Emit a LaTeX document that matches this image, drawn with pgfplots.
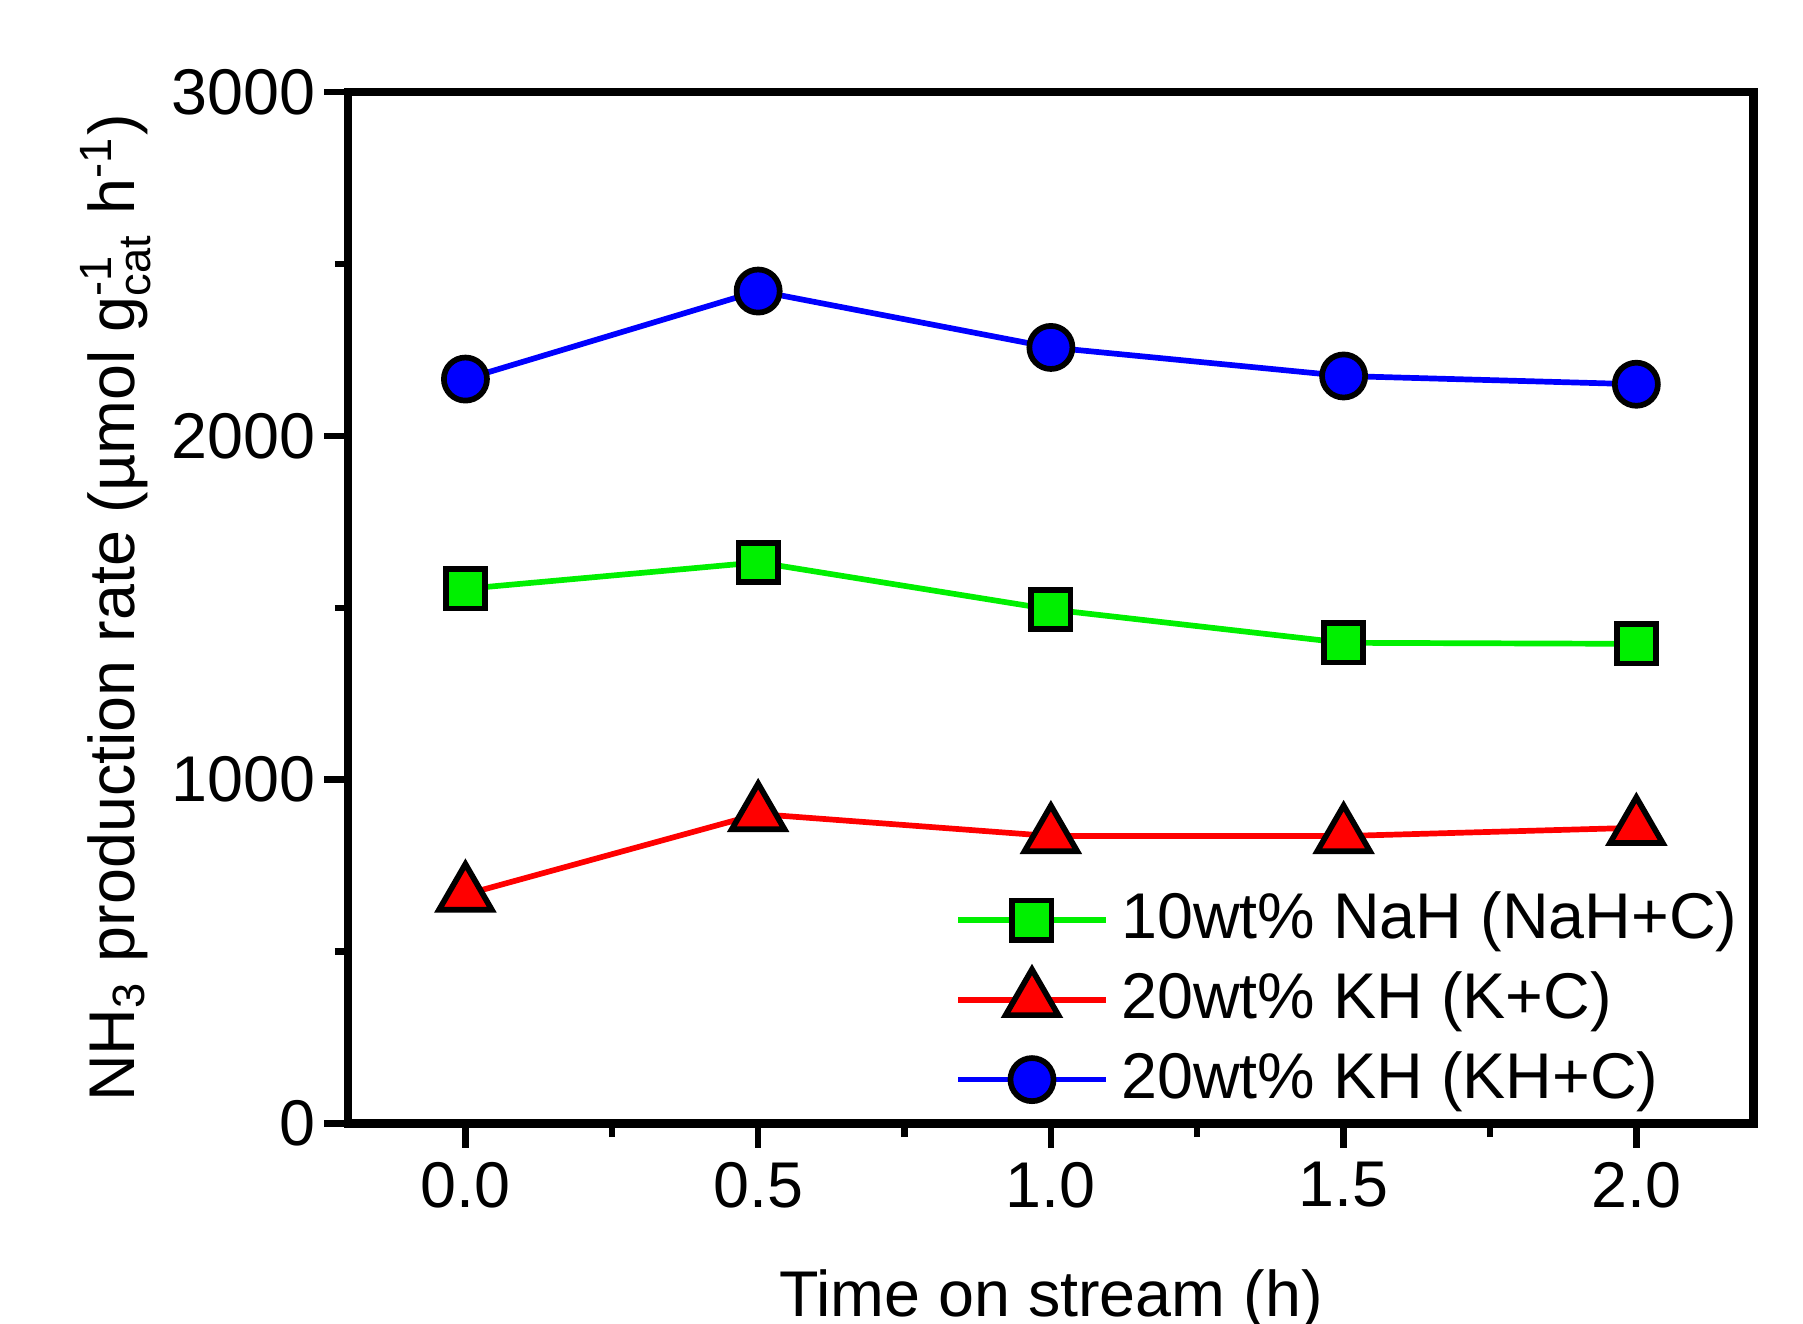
\documentclass[border=0pt]{standalone}
\usepackage{amsmath}
\usepackage{fontspec}
\setmainfont{Liberation Sans}
\setsansfont{Liberation Sans}
\usepackage{pgfplots}
\pgfplotsset{compat=1.18}
\definecolor{cgreen}{RGB}{0,240,0}
\definecolor{cred}{RGB}{255,0,0}
\definecolor{cblue}{RGB}{0,0,255}
\begin{document}
\fontsize{10.2}{12}\selectfont
\begin{tikzpicture}
\begin{axis}[
  name=ax,
  scale only axis,
  width=7.793cm, height=5.721cm,
  xmin=-0.2, xmax=2.2, ymin=0, ymax=3000,
  xtick={0,0.5,1,1.5,2}, ytick={0,1000,2000,3000},
  minor x tick num=1, minor y tick num=1,
  xtick pos=left, ytick pos=left,
  tick align=outside,
  major tick length=0.135cm, minor tick length=0.075cm,
  every tick/.style={black, line width=1pt},
  axis line style={line width=1.3pt},
  /pgf/number format/assume math mode=true,
  xticklabel style={/pgf/number format/fixed, /pgf/number format/fixed zerofill, /pgf/number format/precision=1, yshift=0.045cm},
  yticklabel style={/pgf/number format/1000 sep={}, xshift=0.077cm},
  tick label style={font=\fontsize{10.2}{12}\selectfont},
  label style={font=\fontsize{10.2}{12}\selectfont},
  xlabel={Time on stream (h)},
  ylabel={NH$_{\text{3}}$ production rate (µmol g$^{\text{-1}}_{\text{cat}}$ h$^{\text{-1}}$)},
  xlabel style={at={(axis description cs:0.5,-0.1706)}, anchor=center},
  ylabel style={at={(axis description cs:-0.1656,0.5)}, anchor=center},
  legend style={at={(axis description cs:0.431,0.238)}, anchor=north west, draw=none, fill=none,
    font=\fontsize{10.2}{12}\selectfont, row sep=-0.012cm, inner sep=0pt},
  legend cell align=left,
  legend image code/.code={\draw[mark repeat=2,mark phase=2] plot coordinates {(0cm,0cm) (0.41cm,0cm) (0.82cm,0cm)};},
  every axis plot/.append style={line width=0.9pt},
]
\addplot[cgreen, mark=square*, mark size=3.1pt, mark options={fill=cgreen, draw=black, line width=0.9pt}]
  coordinates {(0,1555) (0.5,1632) (1,1495) (1.5,1398) (2,1395)};
\addlegendentry{10wt\% NaH (NaH+C)}
\addplot[cred, mark=triangle*, mark size=4.8pt, mark options={fill=cred, draw=black, line width=0.9pt}]
  coordinates {(0,666) (0.5,900) (1,836) (1.5,836) (2,860)};
\addlegendentry{20wt\% KH (K+C)}
\addplot[cblue, mark=*, mark size=3.4pt, mark options={fill=cblue, draw=black, line width=0.9pt}]
  coordinates {(0,2165) (0.5,2421) (1,2257) (1.5,2174) (2,2150)};
\addlegendentry{20wt\% KH (KH+C)}
\end{axis}
\pgfresetboundingbox
\path[use as bounding box] (-1.932,-1.112) rectangle (8.068,6.231);
\end{tikzpicture}
\end{document}
